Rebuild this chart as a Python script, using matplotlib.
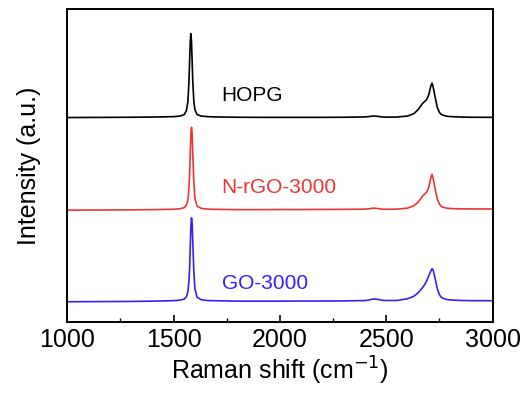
import matplotlib
matplotlib.use("Agg")
import matplotlib.pyplot as plt
from matplotlib.ticker import MultipleLocator

plt.rcParams['font.family'] = ['Liberation Sans', 'DejaVu Sans']

# Raman shift grid (cm-1)
shift = [1000, 1100, 1200, 1300, 1400, 1450, 1500, 1530, 1550, 1560, 1567,
         1572, 1575, 1578, 1581, 1584, 1587, 1590, 1595, 1600, 1610, 1630,
         1660, 1700, 1800, 1900, 2000, 2100, 2200, 2300, 2400, 2420, 2440,
         2460, 2480, 2500, 2550, 2600, 2630, 2650, 2670, 2680, 2690, 2700,
         2710, 2715, 2720, 2730, 2740, 2750, 2760, 2780, 2800, 2850, 2900,
         3000]

# intensities (a.u.), unstacked
hopg = [0.0, 0.1, 0.2, 0.3, 0.5, 0.7, 0.9, 1.5, 3, 7, 16,
        36, 56, 76, 84, 76, 56, 36, 16, 8, 3, 1.5,
        0.9, 0.6, 0.3, 0.2, 0.2, 0.2, 0.2, 0.3, 0.6, 1.0, 1.6,
        1.2, 0.6, 0.4, 0.5, 1.5, 4, 8, 14, 16, 18, 23,
        32, 34.5, 31, 20, 10, 5, 3, 1.5, 1.0, 0.5, 0.3,
        0.2]

nrgo = [0.0, 0.1, 0.2, 0.3, 0.5, 0.7, 0.9, 1.4, 2.5, 5, 10,
        22, 36, 56, 76, 83, 76, 56, 28, 12, 4, 1.8,
        1.0, 0.8, 0.5, 0.5, 0.6, 0.6, 0.7, 0.8, 1.0, 1.4, 2.0,
        1.6, 1.0, 0.9, 1.0, 2.0, 4.5, 8, 14, 16, 18, 23,
        33, 36, 32, 21, 11, 6, 3.5, 2.2, 1.6, 1.3, 1.2,
        1.2]

go = [0.0, 0.1, 0.2, 0.3, 0.6, 0.8, 1.1, 1.6, 2.7, 5, 10,
      21, 34, 54, 75, 84, 78, 60, 30, 13, 4.5, 2.0,
      1.2, 1.0, 0.6, 0.6, 0.6, 0.7, 0.7, 0.8, 1.2, 1.8, 2.8,
      2.4, 1.5, 1.2, 1.3, 3.0, 5.5, 9, 14, 17, 21, 26,
      31, 33, 32, 23, 13, 7, 4, 2.5, 1.8, 1.3, 1.1,
      1.0]

names = ['HOPG', 'N-rGO-3000', 'GO-3000']
spectra = [hopg, nrgo, go]
colors = ['black', '#ee3535', '#3a1ff2']
offsets = [204.7, 112.0, 20.3]
label_y = [227, 135, 39]

fig = plt.figure(figsize=(5.28, 3.94), dpi=100)
ax = fig.add_axes([0.1275, 0.1827, 0.8055, 0.7935])

for name, y, c, off, ly in zip(names, spectra, colors, offsets, label_y):
    ax.plot(shift, [v + off for v in y], color=c, lw=1.2)
    ax.text(1726, ly, name, color=c, fontsize=15, va='center', ha='left')

ax.set_xlim(1000, 3000)
ax.set_ylim(0, 313)
ax.xaxis.set_major_locator(MultipleLocator(500))
ax.xaxis.set_minor_locator(MultipleLocator(250))
ax.tick_params(axis='x', which='major', direction='in', length=5, width=1.2,
               labelsize=18, pad=4)
ax.tick_params(axis='x', which='minor', direction='in', length=3, width=1.0)
ax.set_yticks([])
for s in ax.spines.values():
    s.set_linewidth(1.4)

ax.set_xlabel('Raman shift (cm$^{-1}$)', fontsize=18, labelpad=2)
ax.set_ylabel('Intensity (a.u.)', fontsize=18, labelpad=19)

fig.savefig('out.png', dpi=100)
